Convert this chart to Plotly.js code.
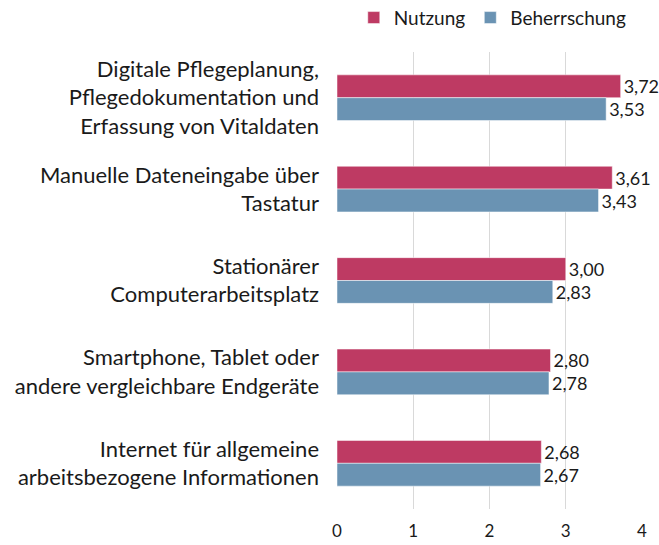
<!DOCTYPE html>
<html>
<head>
<meta charset="utf-8">
<script src="https://cdn.plot.ly/plotly-3.0.1.min.js"></script>
<style>html,body{margin:0;padding:0;background:#fff;}#chart{width:659px;height:545px;}</style>
</head>
<body>
<div id="chart"></div>
<script>
const categories = [
  "Digitale Pflegeplanung,<br>Pflegedokumentation und<br>Erfassung von Vitaldaten",
  "Manuelle Dateneingabe über<br>Tastatur",
  "Stationärer<br>Computerarbeitsplatz",
  "Smartphone, Tablet oder<br>andere vergleichbare Endgeräte",
  "Internet für allgemeine<br>arbeitsbezogene Informationen"
];
const nutzung = [3.72, 3.61, 3.00, 2.80, 2.68];
const beherrschung = [3.53, 3.43, 2.83, 2.78, 2.67];
const xTicks = [0, 1, 2, 3, 4];

const font = "Lato, 'Open Sans', sans-serif";
const txt = '#1a1a1a';
const traces = [
  {type:'bar', orientation:'h', name:'Nutzung', y:categories, x:nutzung,
   marker:{color:'#be3a63', line:{color:'#ffffff', width:0.5}},
   texttemplate:'%{x:.2f}', textposition:'outside', cliponaxis:false,
   textfont:{family:font, size:18, color:txt}},
  {type:'bar', orientation:'h', name:'Beherrschung', y:categories, x:beherrschung,
   marker:{color:'#6a93b3', line:{color:'#ffffff', width:0.5}},
   texttemplate:'%{x:.2f}', textposition:'outside', cliponaxis:false,
   textfont:{family:font, size:18, color:txt}}
];
const layout = {
  width:659, height:545,
  margin:{l:337, r:17, t:52, b:36, autoexpand:false},
  separators:',.',
  barmode:'group', bargap:0.5, bargroupgap:0,
  font:{family:font, size:16, color:txt},
  showlegend:true,
  legend:{orientation:'h', x:0.055, xanchor:'left', y:1.075, yanchor:'middle',
          font:{family:font, size:19, color:txt}, traceorder:'normal', itemwidth:30},
  xaxis:{range:[0,4], tickvals:xTicks, showgrid:true, gridcolor:'#d9d9d9', gridwidth:1,
         zeroline:false, showline:false, ticks:'', tickfont:{family:font, size:17, color:txt},
         ticklabelstandoff:10, fixedrange:true, automargin:false},
  yaxis:{autorange:'reversed', type:'category', showgrid:false, zeroline:false, showline:false,
         ticks:'', tickfont:{family:font, size:22, color:txt}, ticklabelstandoff:17, automargin:false},
  plot_bgcolor:'#fff', paper_bgcolor:'#fff'
};
Plotly.newPlot('chart', traces, layout, {displayModeBar:false, staticPlot:true});
</script>
</body>
</html>
